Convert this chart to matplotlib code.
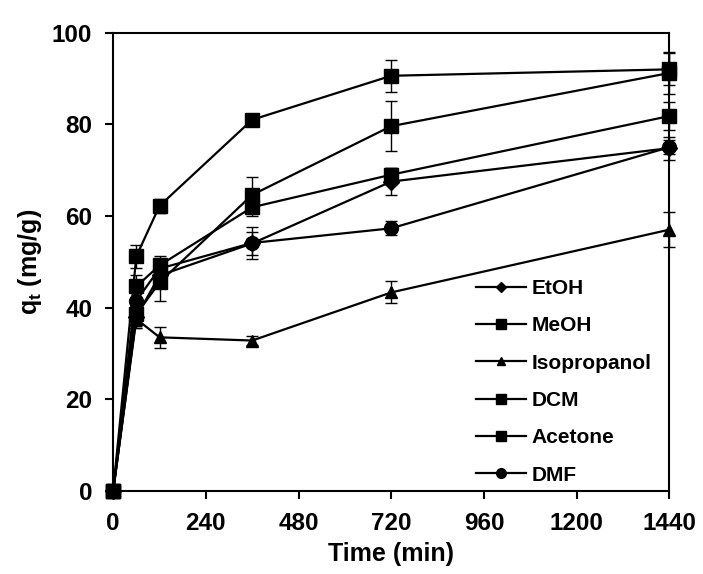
import numpy as np
import matplotlib.pyplot as plt
from matplotlib.lines import Line2D

plt.rcParams['font.family'] = ['Liberation Sans', 'DejaVu Sans']
plt.rcParams['font.weight'] = 'bold'

# sampling times (min)
time = [0, 60, 120, 360, 720, 1440]

# adsorption capacity q_t (mg/g) per solvent
etoh = [0, 38.0, 47.0, 54.0, 67.5, 74.8]
meoh = [0, 51.2, 62.2, 81.0, 90.6, 92.0]
isopropanol = [0, 37.5, 33.5, 32.8, 43.3, 57.0]
dcm = [0, 38.5, 45.5, 64.6, 79.6, 91.2]
acetone = [0, 44.6, 49.2, 61.9, 69.0, 81.8]
dmf = [0, 41.5, 48.5, 54.1, 57.3, 75.0]

# standard deviations
etoh_err = [0, 2.0, 2.0, 2.5, 3.0, 2.5]
meoh_err = [0, 2.5, 1.5, 1.0, 3.5, 3.5]
isopropanol_err = [0, 2.0, 2.3, 1.0, 2.4, 3.8]
dcm_err = [0, 3.0, 4.0, 4.0, 5.4, 4.5]
acetone_err = [0, 2.5, 2.0, 2.0, 1.5, 3.0]
dmf_err = [0, 2.0, 2.0, 3.5, 1.5, 1.5]

labels = ['EtOH', 'MeOH', 'Isopropanol', 'DCM', 'Acetone', 'DMF']
series = [etoh, meoh, isopropanol, dcm, acetone, dmf]
errors = [etoh_err, meoh_err, isopropanol_err, dcm_err, acetone_err, dmf_err]
markers = ['D', 's', '^', 's', 's', 'o']
sizes = [8, 10, 9, 10, 10, 10]
leg_sizes = [5, 7, 6, 7, 7, 7]

fig, ax = plt.subplots(figsize=(7.03, 5.74), dpi=100)
fig.subplots_adjust(left=0.161, right=0.952, top=0.943, bottom=0.145)

for y, e, m, s in zip(series, errors, markers, sizes):
    ax.errorbar(time, y, yerr=e, color='black', marker=m, markersize=s,
                linewidth=1.6, elinewidth=1.0, capsize=4, capthick=1.0,
                clip_on=False, zorder=3)

ax.set_xlim(0, 1440)
ax.set_ylim(0, 100)
ax.set_xticks(np.arange(0, 1441, 240))
ax.set_yticks(np.arange(0, 101, 20))
ax.tick_params(axis='both', labelsize=17.5, width=1.5, length=6,
               direction='out', pad=9)
for sp in ax.spines.values():
    sp.set_linewidth(1.5)
ax.set_xlabel('Time (min)', fontsize=18, fontweight='bold', labelpad=5)
ax.set_ylabel(r'q$_\mathregular{t}$ (mg/g)', fontsize=18, fontweight='bold', labelpad=6)

# legend with plain line+marker handles (no error bars)
handles = [Line2D([], [], color='black', linewidth=1.6, marker=m, markersize=s)
           for m, s in zip(markers, leg_sizes)]
ax.legend(handles, labels, loc='lower left', bbox_to_anchor=(0.642, 0.0),
          frameon=False, fontsize=15, handlelength=2.4, handletextpad=0.25,
          labelspacing=0.88, borderaxespad=0.0, borderpad=0.3)

fig.savefig('out.png', dpi=100)
